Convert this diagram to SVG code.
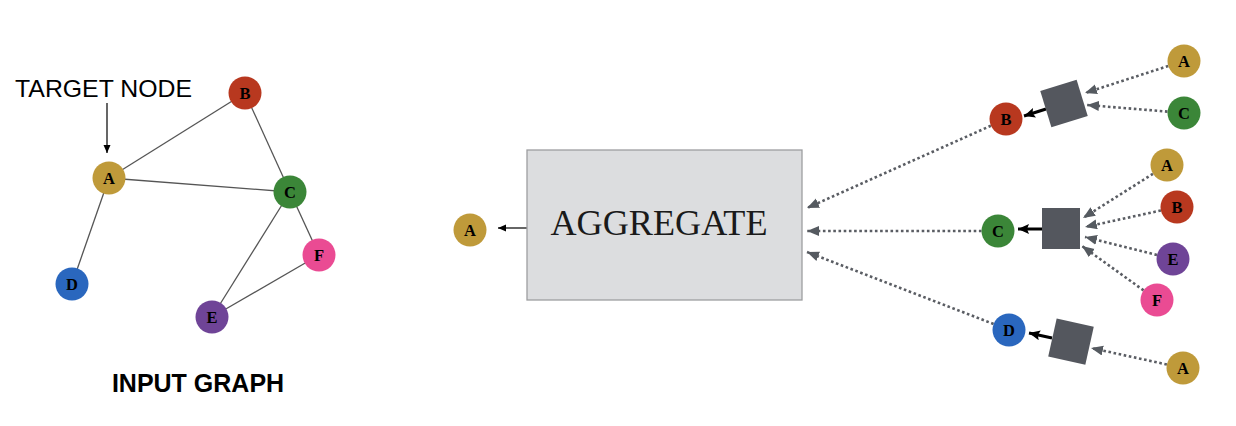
<svg xmlns="http://www.w3.org/2000/svg" width="1236" height="426" viewBox="0 0 1236 426">
<style>
.lbl{font-family:"Liberation Serif","Times New Roman",serif;font-weight:bold;font-size:16.5px;fill:#000;text-anchor:middle}
.edge{stroke:#555;stroke-width:1.3;fill:none}
.dot{stroke:#5a5d63;stroke-width:2.6;stroke-dasharray:2.6 2.6;fill:none;marker-end:url(#ga)}
.bold{stroke:#000;stroke-width:3;fill:none;marker-end:url(#ba)}
.thin{stroke:#000;stroke-width:1.2;fill:none;marker-end:url(#ta)}
.sq{fill:#54575e}
.cA{fill:#bf9a3a}.cB{fill:#b8381f}.cC{fill:#3b8638}.cD{fill:#2a67be}.cE{fill:#6f4497}.cF{fill:#ea4b93}
</style>
<defs>
<marker id="ga" markerUnits="userSpaceOnUse" markerWidth="13" markerHeight="11" refX="12" refY="5" orient="auto"><path d="M0,0 L12,5 L0,10 z" fill="#555a60"/></marker>
<marker id="ba" markerUnits="userSpaceOnUse" markerWidth="12" markerHeight="11" refX="11" refY="5" orient="auto"><path d="M0,0 L11,5 L0,10 L2,5 z" fill="#000"/></marker>
<marker id="ta" markerUnits="userSpaceOnUse" markerWidth="9" markerHeight="8" refX="8" refY="3.5" orient="auto"><path d="M0,0 L8,3.5 L0,7 z" fill="#000"/></marker>
</defs>
<rect width="1236" height="426" fill="#fff"/>

<g id="connectors">
<line class="edge" x1="109" y1="178" x2="245" y2="93"/>
<line class="edge" x1="109" y1="178" x2="290" y2="192"/>
<line class="edge" x1="109" y1="178" x2="72" y2="284"/>
<line class="edge" x1="245" y1="93" x2="290" y2="192"/>
<line class="edge" x1="290" y1="192" x2="212" y2="317"/>
<line class="edge" x1="290" y1="192" x2="319" y2="255"/>
<line class="edge" x1="212" y1="317" x2="319" y2="255"/>
<line class="thin" x1="107" y1="103" x2="107" y2="153"/>
<line class="thin" x1="527" y1="228" x2="498" y2="228"/>
<line class="dot" x1="990.9" y1="125.7" x2="807" y2="208"/>
<line class="dot" x1="981.5" y1="231" x2="807" y2="231"/>
<line class="dot" x1="993.6" y1="324" x2="807" y2="252"/>
<line class="dot" x1="1168.3" y1="66" x2="1085" y2="93"/>
<line class="dot" x1="1167.5" y1="111.6" x2="1087" y2="105"/>
<line class="dot" x1="1153" y1="173.8" x2="1083" y2="218"/>
<line class="dot" x1="1160.9" y1="210.5" x2="1085" y2="227"/>
<line class="dot" x1="1157" y1="255" x2="1085" y2="237"/>
<line class="dot" x1="1143.6" y1="290.4" x2="1082" y2="246"/>
<line class="dot" x1="1166.9" y1="364.5" x2="1091" y2="348"/>
<line class="bold" x1="1046" y1="109" x2="1024" y2="116"/>
<line class="bold" x1="1042" y1="229" x2="1018" y2="229"/>
<line class="bold" x1="1052" y1="338" x2="1029" y2="333"/>
</g>

<g id="labels">
<text x="15" y="97" font-family="Liberation Sans, Arial, sans-serif" font-size="24" fill="#000" textLength="177" lengthAdjust="spacingAndGlyphs">TARGET NODE</text>
<text x="198" y="392" font-family="Liberation Sans, Arial, sans-serif" font-size="25" font-weight="bold" fill="#000" text-anchor="middle">INPUT GRAPH</text>
</g>

<g id="input-A"><circle class="cA" cx="109" cy="178" r="16.5"/><text class="lbl" x="109" y="184">A</text></g>
<g id="input-B"><circle class="cB" cx="245" cy="93" r="16.5"/><text class="lbl" x="245" y="99">B</text></g>
<g id="input-C"><circle class="cC" cx="290" cy="192" r="16.5"/><text class="lbl" x="290" y="198">C</text></g>
<g id="input-D"><circle class="cD" cx="72" cy="284" r="16.5"/><text class="lbl" x="72" y="290">D</text></g>
<g id="input-E"><circle class="cE" cx="212" cy="317" r="16.5"/><text class="lbl" x="212" y="323">E</text></g>
<g id="input-F"><circle class="cF" cx="319" cy="255" r="16.5"/><text class="lbl" x="319" y="261">F</text></g>

<g id="aggregate">
<rect x="527" y="150" width="275" height="150" fill="#dcdddf" stroke="#9d9ea0" stroke-width="1.3"/>
<text x="659" y="235" font-family="Liberation Serif, 'Times New Roman', serif" font-size="35" fill="#1a1a1a" text-anchor="middle" textLength="217" lengthAdjust="spacingAndGlyphs">AGGREGATE</text>
</g>
<g id="out-A"><circle class="cA" cx="470" cy="230" r="16.5"/><text class="lbl" x="470" y="236">A</text></g>

<g id="mid-B"><circle class="cB" cx="1006" cy="119" r="16.5"/><text class="lbl" x="1006" y="125">B</text></g>
<g id="mid-C"><circle class="cC" cx="998" cy="231" r="16.5"/><text class="lbl" x="998" y="237">C</text></g>
<g id="mid-D"><circle class="cD" cx="1009" cy="330" r="16.5"/><text class="lbl" x="1009" y="336">D</text></g>

<g id="sq-B"><rect class="sq" x="-19" y="-19" width="38" height="38" transform="translate(1064 103.5) rotate(-17)"/></g>
<g id="sq-C"><rect class="sq" x="1042" y="208" width="38" height="41"/></g>
<g id="sq-D"><rect class="sq" x="-19" y="-19.5" width="38" height="39" transform="translate(1071 341.6) rotate(12.5)"/></g>

<g id="nbB-A"><circle class="cA" cx="1184" cy="61" r="16.5"/><text class="lbl" x="1184" y="67">A</text></g>
<g id="nbB-C"><circle class="cC" cx="1184" cy="113" r="16.5"/><text class="lbl" x="1184" y="119">C</text></g>
<g id="nbC-A"><circle class="cA" cx="1167" cy="165" r="16.5"/><text class="lbl" x="1167" y="171">A</text></g>
<g id="nbC-B"><circle class="cB" cx="1177" cy="207" r="16.5"/><text class="lbl" x="1177" y="213">B</text></g>
<g id="nbC-E"><circle class="cE" cx="1173" cy="259" r="16.5"/><text class="lbl" x="1173" y="265">E</text></g>
<g id="nbC-F"><circle class="cF" cx="1157" cy="300" r="16.5"/><text class="lbl" x="1157" y="306">F</text></g>
<g id="nbD-A"><circle class="cA" cx="1183" cy="368" r="16.5"/><text class="lbl" x="1183" y="374">A</text></g>
</svg>
